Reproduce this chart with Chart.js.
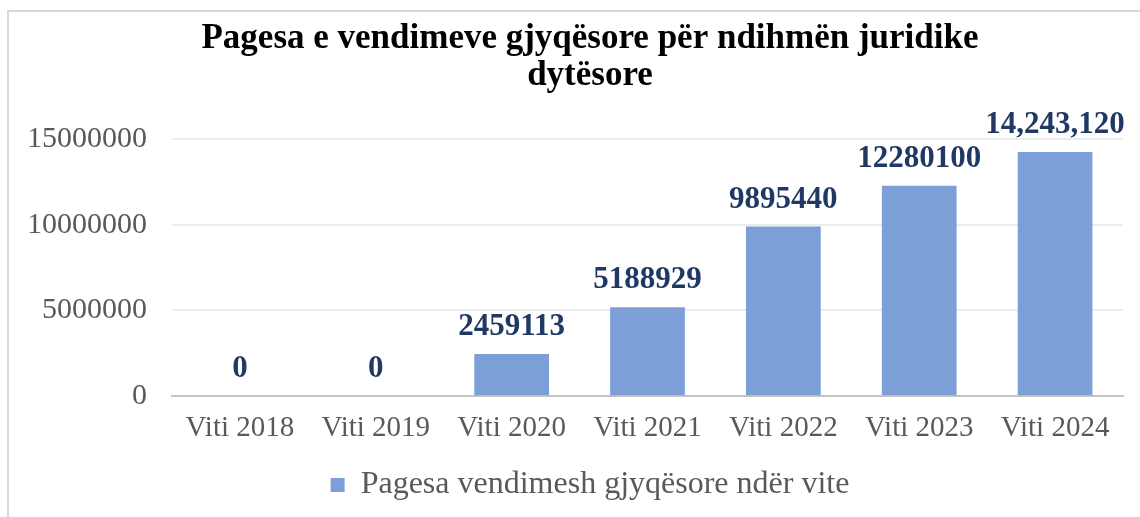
<!DOCTYPE html>
<html>
<head>
<meta charset="utf-8">
<script src="https://cdn.jsdelivr.net/npm/chart.js@4.4.1/dist/chart.umd.min.js"></script>
<style>
  html, body { margin:0; padding:0; background:#fff; overflow:hidden; }
  #wrap { position:relative; width:1180px; height:517px; }
  #frame { position:absolute; left:7px; top:10px; width:1300px; height:600px;
           border-left:2px solid #d9d9d9; border-top:2px solid #d9d9d9; }
  #wrap canvas { position:absolute; left:0; top:0; }
</style>
</head>
<body>
<div id="wrap">
  <div id="frame"></div>
  <canvas id="paymentsChart"></canvas>
</div>
<script>
// Chart data
const categories = ['Viti 2018','Viti 2019','Viti 2020','Viti 2021','Viti 2022','Viti 2023','Viti 2024'];
const payments = [0, 0, 2459113, 5188929, 9895440, 12280100, 14243120];
const dataLabels = ['0','0','2459113','5188929','9895440','12280100','14,243,120'];
const yTicks = [0, 5000000, 10000000, 15000000];
const seriesName = 'Pagesa vendimesh gjyqësore ndër vite';
const titleLines = ['Pagesa e vendimeve gjyqësore për ndihmën juridike', 'dytësore'];

const SERIF = "'Liberation Serif', 'Times New Roman', serif";
const BAR = '#7b9fd6';
const LABEL = '#1f3864';
const GREY = '#595959';

// value labels above each bar
const barValueLabels = {
  id: 'barValueLabels',
  afterDatasetsDraw(chart){
    const ctx = chart.ctx;
    const meta = chart.getDatasetMeta(0);
    ctx.save();
    ctx.font = 'bold 31px ' + SERIF;
    ctx.fillStyle = LABEL;
    ctx.textAlign = 'center';
    ctx.textBaseline = 'alphabetic';
    meta.data.forEach((bar, i) => ctx.fillText(dataLabels[i], bar.x, bar.y - 19));
    ctx.restore();
  }
};

document.addEventListener('DOMContentLoaded', () => {
  const el = document.getElementById('paymentsChart');
  new Chart(el, {
    type: 'bar',
    data: {
      labels: categories,
      datasets: [{ label: seriesName, data: payments, backgroundColor: BAR, borderWidth: 0,
                   categoryPercentage: 1, barPercentage: 0.55 }]
    },
    options: {
      responsive: true, maintainAspectRatio: false, animation: false,
      layout: { padding: { left: 27, right: 27, top: 0, bottom: 6 } },
      plugins: {
        tooltip: { enabled: false },
        title: {
          display: true, text: titleLines, color: '#000',
          font: { family: SERIF, size: 35, weight: 'bold', lineHeight: '37px' },
          padding: { top: 20, bottom: 45 }
        },
        legend: {
          position: 'bottom',
          labels: { color: GREY, font: { family: SERIF, size: 32 }, boxWidth: 14, boxHeight: 14, padding: 8 }
        }
      },
      scales: {
        x: {
          grid: { display: false, drawTicks: false },
          border: { display: true, color: '#c4c4c4', width: 2 },
          ticks: { color: GREY, font: { family: SERIF, size: 29 }, padding: 15, maxRotation: 0 }
        },
        y: {
          min: yTicks[0], max: yTicks[yTicks.length - 1],
          afterFit: s => { s.width = 145; },
          afterBuildTicks: s => { s.ticks = yTicks.map(v => ({ value: v })); },
          grid: { color: '#ececec', lineWidth: 2, drawTicks: false },
          border: { display: false },
          ticks: { color: GREY, font: { family: SERIF, size: 30 }, padding: 25, callback: v => String(v) }
        },
        // empty right gutter so the plot ends short of the frame centre line
        gutter: {
          type: 'linear', position: 'right',
          afterFit: s => { s.width = 30; },
          grid: { display: false }, border: { display: false }, ticks: { display: false }
        }
      }
    },
    plugins: [barValueLabels]
  });
});
</script>
</body>
</html>
